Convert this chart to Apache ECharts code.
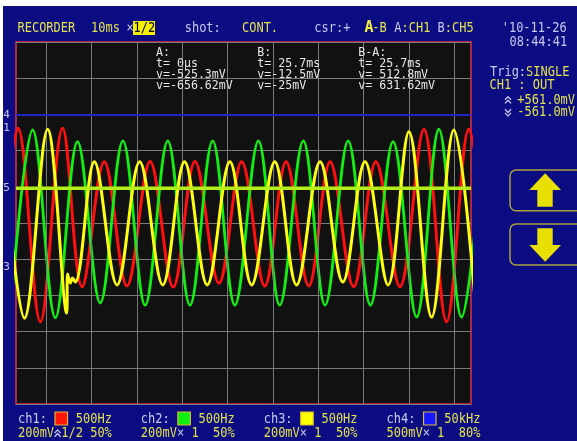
<!DOCTYPE html>
<html><head><meta charset="utf-8">
<script src="https://cdn.jsdelivr.net/npm/echarts@6/dist/echarts.min.js"></script>
<style>html,body{margin:0;padding:0;background:#fff;overflow:hidden}#c{width:577px;height:441px;}</style>
</head><body><div id="c"></div>
<script>
// ---- data (x in time divisions, y in vertical divisions) ----
const ch1Data = [[-1.12,-2.74],[-0.62,2.62],[-0.13,-2.73],[0.36,2.62],[0.79,-1.76],[1.28,1.69],[1.78,-1.74],[2.29,1.70],[2.80,-1.77],[3.28,1.70],[3.81,-1.66],[4.31,1.69],[4.82,-1.74],[5.29,1.69],[5.79,-1.74],[6.26,1.69],[6.78,-1.76],[7.27,1.69],[7.80,-1.76],[8.33,2.59],[8.83,-2.73],[9.32,2.60],[9.82,-2.74]];
const ch2Data = [[-0.80,-2.62],[-0.30,2.57],[0.20,-2.62],[0.69,2.25],[1.19,-2.21],[1.69,2.27],[2.18,-2.27],[2.68,2.27],[3.17,-2.27],[3.67,2.27],[4.16,-2.27],[4.68,2.27],[5.15,-2.27],[5.67,2.27],[6.15,-2.27],[6.66,2.27],[7.15,-2.27],[7.65,2.25],[8.17,-2.60],[8.66,2.59],[9.16,-2.60],[9.65,2.60]];
const ch3Data = [[-0.98,2.57],[-0.48,-2.63],[0.03,2.59],[0.45,-2.49],[0.47,-1.41],[0.53,-1.66],[0.58,-1.52],[0.64,-1.63],[1.06,1.69],[1.56,-1.71],[2.06,1.69],[2.57,-1.71],[3.05,1.69],[3.55,-1.71],[4.05,1.69],[4.53,-1.71],[5.04,1.69],[5.52,-1.71],[6.04,1.69],[6.54,-1.63],[7.03,1.69],[7.54,-1.71],[8.00,2.52],[8.50,-2.60],[8.99,2.57],[9.49,-2.63]];
const ch4Level = 2.98;
const ch5Level = 0.96;
const gridXLines = [0,1,2,3,4,5,6,7,8,9];
const xRange = [-0.668, 9.369];
const yRange = [-5, 5];
const markerLabels = ['4','1','5','3'];
const markerLevels = [2.98, 2.63, 0.96, -1.21];
const cursorCols = [
  ['A:', 't= 0\u03bcs', 'v=-525.3mV', 'v=-656.62mV'],
  ['B:', 't= 25.7ms', 'v=-12.5mV', 'v=-25mV'],
  ['B-A:', 't= 25.7ms', 'v= 512.8mV', 'v= 631.62mV']
];
const chNames = ['ch1:','ch2:','ch3:','ch4:'];
const chFreq = ['500Hz','500Hz','500Hz','50kHz'];
const chVdiv = ['200mV','200mV','200mV','500mV'];
const chMag = ['1/2 50%',' 1  50%',' 1  50%',' 1  80%'];
const chColors = ['#ff1408','#10f010','#ffff00','#1818ff'];

const YEL = '#e0e050', LAV = '#c8c8f0', WHT = '#e6e6e6';
const FONT = '"DejaVu Sans Mono", monospace';
const CW = 7.22;

const chart = echarts.init(document.getElementById('c'), null, {renderer:'canvas'});
function wave(name, data, color, z, w) {
  return {name, type:'line', data, smooth:0.36, symbol:'none', clip:true, z,
    lineStyle:{color, width:w}, silent:true};
}
chart.setOption({
  backgroundColor:'#0c0c82',
  animation:false,
  grid:{left:16, top:42, width:455, height:362, show:true, backgroundColor:'#111111', borderColor:'#a8284a', borderWidth:2},
  xAxis:{type:'value', min:xRange[0], max:xRange[1], axisLine:{show:false}, axisTick:{show:false}, axisLabel:{show:false}, splitLine:{show:false}},
  yAxis:{type:'value', min:yRange[0], max:yRange[1], interval:1, axisLine:{show:false}, axisTick:{show:false}, axisLabel:{show:false},
    splitLine:{show:true, lineStyle:{color:'#7a7a7a', width:1}}},
  series:[
    {type:'line', data:[[xRange[0]-1,0]], symbol:'none', z:1, silent:true,
      markLine:{silent:true, symbol:'none', label:{show:false}, animation:false,
        lineStyle:{color:'#7a7a7a', width:1, type:'solid'}, data:gridXLines.map(v=>({xAxis:v}))}},
    wave('ch1', ch1Data, '#ff1010', 3, 3),
    wave('ch2', ch2Data, '#12f012', 4, 2.8),
    wave('ch3', ch3Data, '#ffff10', 5, 3),
    {name:'ch4', type:'line', data:[[xRange[0],ch4Level],[xRange[1],ch4Level]], symbol:'none', z:6, silent:true,
      lineStyle:{color:'#2424c0', width:2}},
    {name:'ch5', type:'line', data:[[xRange[0],ch5Level],[xRange[1],ch5Level]], symbol:'none', z:7, silent:true,
      lineStyle:{color:'#b4f018', width:3.5}}
  ]
});

// main screen text: taller glyphs, same 7.22px pitch
function T(x, y, s, fill, size, bold) {
  const sz = size || 13.5;
  const sx = size ? 1 : 0.888;
  return {type:'text', x, y, z:100, silent:true, scaleX:sx, scaleY:1,
    style:{text:s, fill, font:(bold?'bold ':'')+sz+'px '+FONT, textVerticalAlign:'middle', verticalAlign:'middle'}};
}
function R(x, y, w, h, fill, stroke, r) {
  return {type:'rect', z:99, silent:true, shape:{x, y, width:w, height:h, r:r||0},
    style:{fill, stroke:stroke||null, lineWidth:stroke?1.2:0}};
}
function chev(x, y, up) {
  const d = up ? 1 : -1;
  const mk = (yy) => ({type:'polyline', z:100, silent:true,
    shape:{points:[[x-3,yy+1.6*d],[x,yy-1.6*d],[x+3,yy+1.6*d]]}, style:{stroke:LAV, lineWidth:1.3, fill:null}});
  return [mk(y-1.8*d), mk(y+1.8*d)];
}
const g = [];
// white margins
g.push({type:'rect', z:120, silent:true, shape:{x:0,y:0,width:577,height:6}, style:{fill:'#fff'}});
g.push({type:'rect', z:120, silent:true, shape:{x:0,y:0,width:3,height:441}, style:{fill:'#fff'}});
// header
g.push(T(17.5,28,'RECORDER',YEL), T(91,28,'10ms',YEL), T(126.5,28,'\u00d7',LAV));
g.push(R(133,21,22,14,'#f4f000'), T(133.5,28,'1/2','#000'));
g.push(T(184.7,28,'shot:',LAV), T(242,28,'CONT.',YEL), T(314.3,28,'csr:+',LAV));
g.push(T(364.5,28,'A','#f0f040',15,true));
g.push(T(372.2,28,'-B',YEL), T(394.3,28,'A',LAV), T(394.3+CW,28,':CH1',YEL), T(394.3+6*CW,28,'B',LAV), T(394.3+7*CW,28,':CH5',YEL));
g.push(T(501.7,28,"'10-11-26",LAV), T(509.5,42.7,'08:44:41',LAV));
// right panel
g.push(T(490,72.7,'Trig:',LAV), T(490+5*CW,72.7,'SINGLE',YEL), T(489.5,85,'CH1 : OUT',YEL));
g.push(...chev(508,100,true), T(517.3,100,'+561.0mV',YEL));
g.push(...chev(508,112.7,false), T(517.3,112.7,'-561.0mV',YEL));
// buttons
g.push({type:'rect', z:99, silent:true, shape:{x:510,y:170,width:80,height:40.7,r:6}, style:{fill:'#0c0c82', stroke:'#aaa040', lineWidth:1.5}});
g.push({type:'polygon', z:100, silent:true, shape:{points:[[545.2,173.3],[561,190],[552.7,190],[552.7,206.7],[537.3,206.7],[537.3,190],[529.3,190]]}, style:{fill:'#e8e000'}});
g.push({type:'rect', z:99, silent:true, shape:{x:510,y:224,width:80,height:41,r:6}, style:{fill:'#0c0c82', stroke:'#aaa040', lineWidth:1.5}});
g.push({type:'polygon', z:100, silent:true, shape:{points:[[537.3,228.3],[552.7,228.3],[552.7,245],[561,245],[545.2,261.7],[529.3,245],[537.3,245]]}, style:{fill:'#e8e000'}});
// cursor readouts
const colX = [156, 257.3, 358.3];
const rowY = [53.2, 63.9, 74.6, 85.5];
cursorCols.forEach((col, i) => col.forEach((s, j) => g.push(T(colX[i], rowY[j], s, WHT, 11.6))));
// left markers (positioned through y axis scale)
markerLabels.forEach((s, i) => {
  const py = chart.convertToPixel({yAxisIndex:0}, markerLevels[i]);
  g.push({type:'text', x:6.5, y:py, z:100, silent:true,
    style:{text:s, fill:LAV, font:'11px '+FONT, align:'center', textAlign:'center', verticalAlign:'middle', textVerticalAlign:'middle'}});
});
// bottom channel legend
chNames.forEach((n, i) => {
  const x0 = 18 + i * 122.85;
  g.push(T(x0, 419, n, LAV));
  g.push(R(x0 + 37, 412, 12.5, 13, chColors[i], '#d8b838'));
  g.push(T(x0 + 8 * CW, 419, chFreq[i], YEL));
  g.push(T(x0, 433.3, chVdiv[i], YEL));
  if (i === 0) g.push(...chev(x0 + 5 * CW + 3.5, 433.3, true));
  else g.push(T(x0 + 5 * CW, 433.3, '\u00d7', LAV));
  g.push(T(x0 + 6 * CW, 433.3, chMag[i], YEL));
});
chart.setOption({graphic:g});
</script>
</body></html>
